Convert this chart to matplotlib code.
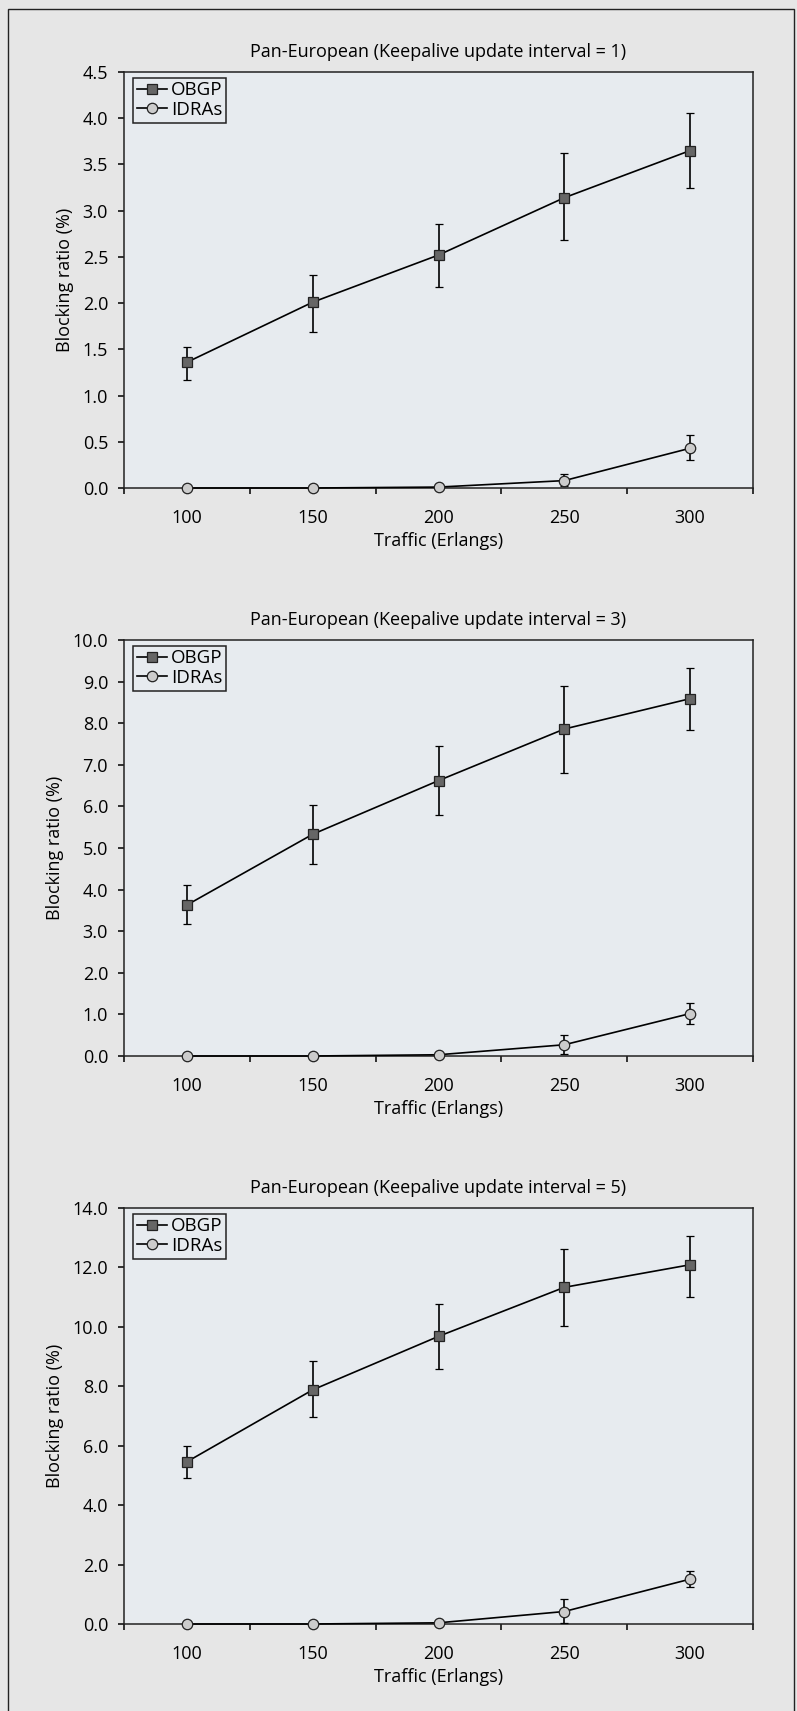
import numpy as np
import matplotlib.pyplot as plt
from matplotlib.patches import Rectangle
from matplotlib.lines import Line2D

plt.rcParams['font.family'] = ['Open Sans', 'DejaVu Sans']

traffic = [100, 150, 200, 250, 300]
intervals = [1, 3, 5]

obgp = [
    [1.36, 2.01, 2.52, 3.14, 3.65],
    [3.63, 5.33, 6.62, 7.86, 8.59],
    [5.46, 7.88, 9.68, 11.33, 12.09],
]
obgp_lo = [
    [1.17, 1.69, 2.17, 2.68, 3.24],
    [3.17, 4.62, 5.79, 6.81, 7.84],
    [4.91, 6.98, 8.58, 10.03, 11.02],
]
obgp_hi = [
    [1.53, 2.30, 2.86, 3.62, 4.06],
    [4.12, 6.03, 7.45, 8.90, 9.33],
    [6.00, 8.85, 10.78, 12.61, 13.05],
]
idras = [
    [0.0, 0.0, 0.01, 0.08, 0.43],
    [0.0, 0.0, 0.03, 0.27, 1.02],
    [0.0, 0.0, 0.04, 0.42, 1.51],
]
idras_lo = [
    [0.0, 0.0, 0.0, 0.02, 0.30],
    [0.0, 0.0, 0.0, 0.05, 0.78],
    [0.0, 0.0, 0.0, 0.05, 1.25],
]
idras_hi = [
    [0.0, 0.0, 0.03, 0.15, 0.57],
    [0.0, 0.0, 0.08, 0.50, 1.27],
    [0.0, 0.0, 0.10, 0.85, 1.80],
]
y_max = [4.5, 10.0, 14.0]
y_step = [0.5, 1.0, 2.0]

W, H = 797, 1711
fig = plt.figure(figsize=(W / 100, H / 100), dpi=100, facecolor='#e6e6e6')
# outer frame, open at the bottom edge of the image
fig.patches.append(Rectangle((8 / W, -0.01), 786 / W, 1.01 - 9 / H, transform=fig.transFigure,
                             fill=False, edgecolor='#222222', linewidth=1.0))

# (top, bottom) of each plot area in pixels
boxes = [(72, 488), (640, 1056), (1208, 1624)]
left, width = 124 / W, 629 / W
axcol = '#e7ebef'
fs = 13

for i in range(3):
    top, bot = boxes[i]
    ax = fig.add_axes([left, 1 - bot / H, width, (bot - top) / H])
    ax.set_facecolor(axcol)

    o = np.array(obgp[i])
    d = np.array(idras[i])
    o_err = [o - np.array(obgp_lo[i]), np.array(obgp_hi[i]) - o]
    d_err = [d - np.array(idras_lo[i]), np.array(idras_hi[i]) - d]

    ax.errorbar(traffic, o, yerr=o_err, color='black', lw=1.2, elinewidth=1.2, capsize=2.8, capthick=1.2,
                marker='s', ms=7.5, mfc='#666666', mec='#222222', mew=0.9, zorder=3)
    ax.errorbar(traffic, d, yerr=d_err, color='black', lw=1.2, elinewidth=1.2, capsize=2.8, capthick=1.2,
                marker='o', ms=7.5, mfc='#cccccc', mec='#222222', mew=0.9, zorder=3, clip_on=False)

    ax.set_xlim(75, 325)
    ax.set_ylim(0, y_max[i])
    ax.set_xticks(np.arange(75, 326, 50))
    ax.set_xticklabels([])
    ax.set_xticks(traffic, minor=True)
    ax.set_xticklabels([str(t) for t in traffic], minor=True, fontsize=fs)
    ax.tick_params(axis='x', which='major', direction='out', length=4.5, width=1.1)
    ax.tick_params(axis='x', which='minor', length=0, pad=15)
    yt = np.arange(0, y_max[i] + 0.001, y_step[i])
    ax.set_yticks(yt)
    ax.set_yticklabels(['%.1f' % v for v in yt], fontsize=fs)
    ax.tick_params(axis='y', direction='out', length=4.5, width=1.1, pad=7)
    for s in ax.spines.values():
        s.set_linewidth(1.1)
        s.set_color('#222222')

    ax.set_title('Pan-European (Keepalive update interval = %d)' % intervals[i], fontsize=13, pad=11)
    ax.set_xlabel('Traffic (Erlangs)', fontsize=fs, labelpad=4)
    ax.set_ylabel('Blocking ratio (%)', fontsize=fs, labelpad=6)

    handles = [
        Line2D([], [], color='black', lw=1.2, marker='s', ms=7.5, mfc='#666666', mec='#222222', mew=0.9),
        Line2D([], [], color='black', lw=1.2, marker='o', ms=7.5, mfc='#cccccc', mec='#222222', mew=0.9),
    ]
    leg = ax.legend(handles, ['OBGP', 'IDRAs'], loc='upper left', fontsize=13.5, frameon=True, fancybox=False,
                    borderpad=0.2, handlelength=1.6, handletextpad=0.2, labelspacing=0.08,
                    borderaxespad=0.3, bbox_to_anchor=(0.006, 1.0))
    frame = leg.get_frame()
    frame.set_edgecolor('#222222')
    frame.set_facecolor(axcol)
    frame.set_linewidth(1.1)
    frame.set_alpha(1)

fig.savefig('out.png', dpi=100, facecolor=fig.get_facecolor())
